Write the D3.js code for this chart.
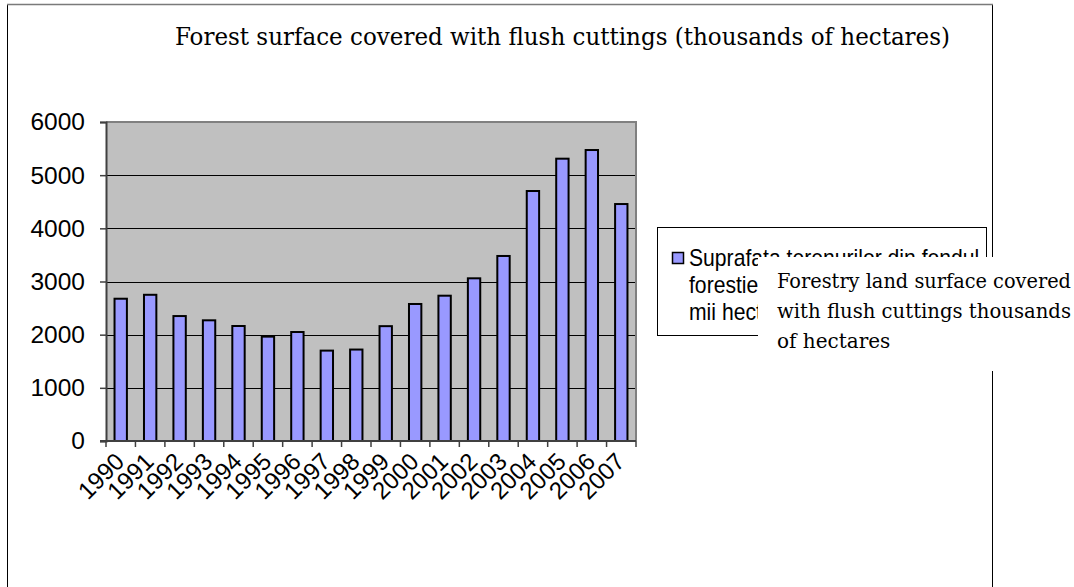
<!DOCTYPE html>
<html>
<head>
<meta charset="utf-8">
<script src="https://cdn.jsdelivr.net/npm/d3@7"></script>
<style>
  html, body { margin: 0; padding: 0; background: #ffffff; }
  svg { display: block; }
</style>
</head>
<body>
<svg id="chart" width="1074" height="587"></svg>
<script>
// Forest surface covered with flush cuttings, thousands of hectares, 1990-2007
const years = ["1990","1991","1992","1993","1994","1995","1996","1997","1998",
               "1999","2000","2001","2002","2003","2004","2005","2006","2007"];
const surface = [2676, 2750, 2350, 2270, 2163, 1963, 2050, 1700, 1720,
                 2160, 2577, 2733, 3060, 3480, 4702, 5310, 5473, 4457];
const yTicks = [0, 1000, 2000, 3000, 4000, 5000, 6000];
const titleText = "Forest surface covered with flush cuttings (thousands of hectares)";
const legendLines = ["Suprafata terenurilor din fondul", "forestier parcursa cu taieri rase -", "mii hectare"];
const noteLines = ["Forestry land surface covered", "with flush cuttings thousands", "of hectares"];

const svg = d3.select("#chart");
const plot = { left: 106, top: 122, right: 636, bottom: 441 };
const sans = "'Liberation Sans', Arial, sans-serif";

// outer chart frame (open at the bottom)
svg.append("path")
  .attr("d", `M7.5,590 V4.5 H992.5 V590`)
  .attr("fill", "none").attr("stroke", "#000").attr("stroke-width", 1);
svg.append("line").attr("x1", 7).attr("x2", 993).attr("y1", 4.5).attr("y2", 4.5)
  .attr("stroke", "#7a7a7a").attr("stroke-width", 1.5);

// title, set in a narrow serif face
svg.append("text")
  .attr("x", 175).attr("y", 45)
  .attr("font-family", "'DejaVu Serif', serif")
  .attr("font-stretch", "condensed")
  .attr("font-size", 23.5)
  .attr("textLength", 775).attr("lengthAdjust", "spacingAndGlyphs")
  .attr("fill", "#000")
  .text(titleText);

const x = d3.scaleBand().domain(years).range([plot.left, plot.right]).paddingInner(0.58).paddingOuter(0.29);
const xb = d3.scaleBand().domain(years).range([plot.left, plot.right]);
const y = d3.scaleLinear().domain([0, 6000]).range([plot.bottom, plot.top]);

// plot area
svg.append("rect")
  .attr("x", plot.left).attr("y", plot.top)
  .attr("width", plot.right - plot.left).attr("height", plot.bottom - plot.top)
  .attr("fill", "#c0c0c0");

// gridlines
svg.append("g").selectAll("line")
  .data(yTicks.filter(d => d > 0))
  .join("line")
  .attr("x1", plot.left).attr("x2", plot.right)
  .attr("y1", d => Math.round(y(d)) + 0.5).attr("y2", d => Math.round(y(d)) + 0.5)
  .attr("stroke", "#000").attr("stroke-width", 1);

// plot border (top and right)
svg.append("path")
  .attr("d", `M${plot.left},${plot.top} H${plot.right} V${plot.bottom}`)
  .attr("fill", "none").attr("stroke", "#808080").attr("stroke-width", 2);

// bars
svg.append("g").selectAll("rect")
  .data(years.map((yr, i) => ({ yr, v: surface[i] })))
  .join("rect")
  .attr("x", d => x(d.yr))
  .attr("y", d => y(d.v))
  .attr("width", x.bandwidth())
  .attr("height", d => y(0) - y(d.v))
  .attr("fill", "#9999ff")
  .attr("stroke", "#000").attr("stroke-width", 2);

// y axis
const yAxis = d3.axisLeft(y).tickValues(yTicks).tickSize(6).tickPadding(15).tickFormat(d3.format("d"));
const gy = svg.append("g").attr("transform", `translate(${plot.left},0)`).call(yAxis);
gy.select(".domain").attr("stroke", "#404040").attr("stroke-width", 2);
gy.selectAll(".tick line").attr("stroke", "#404040").attr("stroke-width", 1.5);
gy.selectAll(".tick text")
  .attr("font-family", sans)
  .attr("font-size", 24.5).attr("fill", "#000");

// x axis with ticks at category boundaries
const gx = svg.append("g").attr("transform", `translate(0,${plot.bottom})`);
gx.append("line").attr("x1", plot.left - 6).attr("x2", plot.right)
  .attr("stroke", "#404040").attr("stroke-width", 2);
gx.selectAll("line.tk")
  .data(years.concat(["end"]))
  .join("line").attr("class", "tk")
  .attr("x1", (d, i) => plot.left + i * xb.step()).attr("x2", (d, i) => plot.left + i * xb.step())
  .attr("y1", 0).attr("y2", 6)
  .attr("stroke", "#404040").attr("stroke-width", 1.5);
gx.selectAll("text")
  .data(years)
  .join("text")
  .attr("transform", d => `translate(${xb(d) + xb.bandwidth() / 2 - 1},${16}) rotate(-45)`)
  .attr("text-anchor", "end")
  .attr("dy", "0.35em")
  .attr("font-family", sans)
  .attr("font-size", 24).attr("fill", "#000")
  .text(d => d);

// legend
const lg = svg.append("g");
lg.append("rect").attr("x", 657.5).attr("y", 227.5).attr("width", 329).attr("height", 108)
  .attr("fill", "#fff").attr("stroke", "#000").attr("stroke-width", 1);
lg.append("rect").attr("x", 672.5).attr("y", 252.5).attr("width", 11).attr("height", 11)
  .attr("fill", "#9999ff").attr("stroke", "#000").attr("stroke-width", 1.5);
lg.selectAll("text.lt")
  .data(legendLines)
  .join("text").attr("class", "lt")
  .attr("x", 0).attr("y", 0)
  .attr("transform", (d, i) => `translate(689,${266 + i * 27}) scale(0.92,1)`)
  .attr("font-family", sans)
  .attr("font-size", 23).attr("fill", "#000")
  .text(d => d);

// English note laid over the legend
const note = svg.append("g");
note.append("rect").attr("x", 758).attr("y", 257).attr("width", 316).attr("height", 114).attr("fill", "#fff");
note.selectAll("text")
  .data(noteLines)
  .join("text")
  .attr("x", 777).attr("y", (d, i) => 288 + i * 30)
  .attr("font-family", "'DejaVu Serif', serif")
  .attr("font-size", 20).attr("fill", "#000")
  .attr("textLength", (d, i) => i < 2 ? 294 : null)
  .attr("lengthAdjust", "spacingAndGlyphs")
  .text(d => d);
</script>
</body>
</html>
